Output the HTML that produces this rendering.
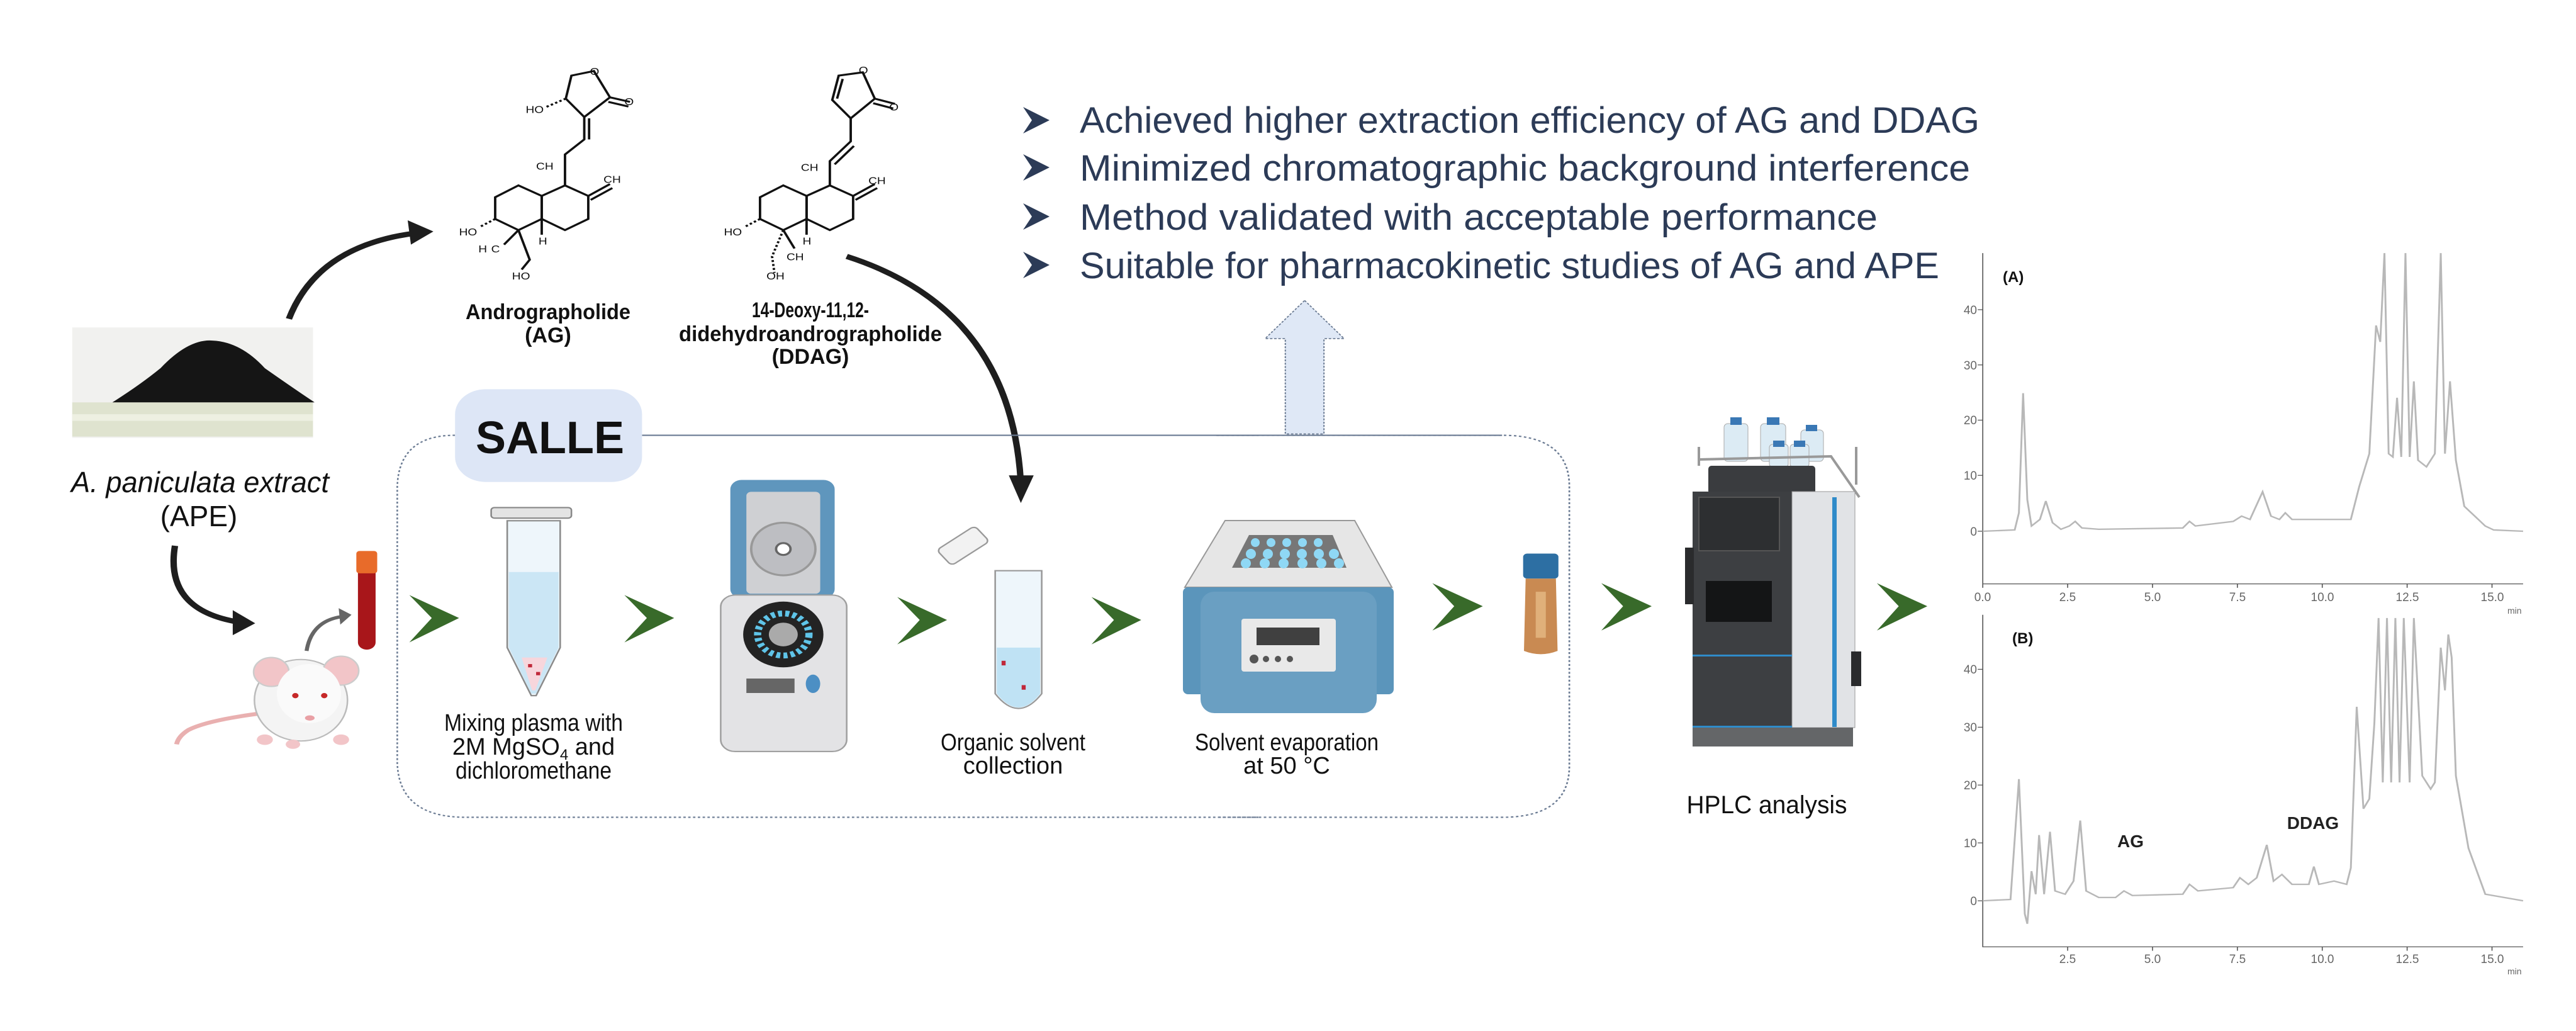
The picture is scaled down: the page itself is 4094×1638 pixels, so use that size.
<!DOCTYPE html>
<html><head><meta charset="utf-8"><style>
html,body{margin:0;padding:0;background:#fff;}
svg{display:block;}
text{font-family:"Liberation Sans",Arial,sans-serif;}
</style></head><body>
<svg width="4094" height="1638" viewBox="0 0 4094 1638" xmlns="http://www.w3.org/2000/svg">
<rect width="4094" height="1638" fill="#fff"/>

<!-- ========== Group in zoom1 coordinates ========== -->
<g transform="scale(1.2755 1.0446)">
  <!-- powder dish -->
  <rect x="90" y="498" width="300" height="168" fill="#f1f1ef"/>
  <rect x="90" y="612" width="300" height="52" fill="#dfe3cf"/>
  <rect x="90" y="630" width="300" height="10" fill="#eef0e2"/>
  <path d="M140 612 Q175 585 200 560 Q235 515 265 518 Q300 520 330 560 Q365 590 392 612 Z" fill="#151515"/>

  <!-- arrows black -->
  <path d="M360 485 Q395 375 515 355" fill="none" stroke="#1e1e1e" stroke-width="8"/>
  <polygon points="540,352 508,335 512,372" fill="#1e1e1e"/>
  <path d="M218 830 Q205 925 292 945" fill="none" stroke="#1e1e1e" stroke-width="8"/>
  <polygon points="318,948 290,928 290,966" fill="#1e1e1e"/>
  <path d="M1055 390 Q1260 470 1272 735" fill="none" stroke="#1e1e1e" stroke-width="8"/>
  <polygon points="1272,765 1257,723 1288,723" fill="#1e1e1e"/>
  <!-- mouse small arrow -->
  <path d="M382 990 Q388 945 425 938" fill="none" stroke="#666" stroke-width="5"/>
  <polygon points="438,935 422,925 424,950" fill="#666"/>

  <!-- mouse -->
  <path d="M325 1085 Q260 1095 235 1110 Q222 1120 220 1132" fill="none" stroke="#e9b0b0" stroke-width="6"/>
  <ellipse cx="375" cy="1065" rx="58" ry="62" fill="#f4f4f4" stroke="#bbb" stroke-width="2"/>
  <circle cx="338" cy="1022" r="22" fill="#f2c5c8" stroke="#ccc" stroke-width="2"/>
  <circle cx="425" cy="1020" r="22" fill="#f2c5c8" stroke="#ccc" stroke-width="2"/>
  <ellipse cx="385" cy="1055" rx="40" ry="45" fill="#fafafa"/>
  <circle cx="368" cy="1058" r="4" fill="#c62828"/>
  <circle cx="404" cy="1058" r="4" fill="#c62828"/>
  <ellipse cx="386" cy="1092" rx="6" ry="4" fill="#e9a0a5"/>
  <ellipse cx="330" cy="1125" rx="10" ry="8" fill="#f2c5c8"/>
  <ellipse cx="425" cy="1125" rx="10" ry="8" fill="#f2c5c8"/>
  <ellipse cx="365" cy="1132" rx="9" ry="7" fill="#f2c5c8"/>

  <!-- blood tube -->
  <rect x="446" y="858" width="22" height="130" rx="11" fill="#a8161a"/>
  <rect x="444" y="838" width="26" height="34" rx="4" fill="#e86b2a"/>

  <!-- SALLE box -->
  <path d="M800 662 L1568 662" stroke="#6b7b93" stroke-width="2"/>
  <path d="M567 662 Q497 662 495 740 L495 1160 Q497 1243 580 1243 L1568 1243" fill="none" stroke="#6b7b93" stroke-width="2" stroke-dasharray="3 3"/>
  <rect x="567" y="592" width="233" height="141" rx="38" fill="#dde6f6"/>

  <!-- chevrons -->
  <g fill="#386a2a">
    <polygon points="510,905 572,940 510,977 538,940"/>
    <polygon points="778,905 840,940 778,977 806,940"/>
    <polygon points="1118,908 1180,943 1118,980 1146,943"/>
    <polygon points="1360,908 1422,943 1360,980 1388,943"/>
  </g>

  <!-- eppendorf -->
  <rect x="612" y="772" width="100" height="16" rx="4" fill="#e4e4e4" stroke="#888" stroke-width="2"/>
  <path d="M632 792 L698 792 L698 985 L668 1058 L662 1058 L632 985 Z" fill="#eef6fb" stroke="#8a8a8a" stroke-width="2"/>
  <path d="M634 870 L696 870 L696 985 L668 1055 L662 1055 L634 985 Z" fill="#cbe6f5"/>
  <path d="M650 1000 L682 1000 L667 1050 L663 1050 Z" fill="#f7d6dc"/>
  <rect x="658" y="1010" width="5" height="5" fill="#c0283a"/><rect x="668" y="1022" width="5" height="5" fill="#c0283a"/>

  <!-- centrifuge -->
  <rect x="910" y="730" width="130" height="180" rx="14" fill="#5f96bd"/>
  <rect x="930" y="748" width="92" height="155" rx="6" fill="#cfd0d3"/>
  <circle cx="976" cy="835" r="40" fill="#bdbec2" stroke="#999" stroke-width="3"/>
  <circle cx="976" cy="835" r="9" fill="#fff" stroke="#666" stroke-width="3"/>
  <rect x="898" y="905" width="157" height="238" rx="18" fill="#e3e3e5" stroke="#a0a0a0" stroke-width="2"/>
  <circle cx="976" cy="965" r="50" fill="#232323"/>
  <circle cx="976" cy="965" r="32" fill="none" stroke="#5fc4e8" stroke-width="9" stroke-dasharray="5 4"/>
  <circle cx="976" cy="965" r="18" fill="#aaa"/>
  <rect x="930" y="1032" width="60" height="22" fill="#666"/>
  <ellipse cx="1013" cy="1040" rx="9" ry="14" fill="#4c8fc4"/>

  <!-- organic tube -->
  <g transform="rotate(-38 1200 830)"><rect x="1170" y="815" width="60" height="30" rx="6" fill="#f2f2f2" stroke="#999" stroke-width="2"/></g>
  <path d="M1240 868 L1298 868 L1298 1055 Q1269 1100 1240 1055 Z" fill="#eef6fb" stroke="#999" stroke-width="2"/>
  <path d="M1242 985 L1296 985 L1296 1055 Q1269 1097 1242 1055 Z" fill="#bfe2f4"/>
  <rect x="1248" y="1005" width="5" height="7" fill="#c0283a"/><rect x="1273" y="1042" width="5" height="7" fill="#c0283a"/>

  <!-- molecules AG -->
  <g fill="none" stroke="#111" stroke-width="3">
    <polygon points="617,300 646,282 675,298 675,333 646,350 617,333"/>
    <polygon points="675,298 704,282 733,298 733,333 704,350 675,333"/>
    <path d="M733 298 L760 280 M736 304 L763 286"/>
    <path d="M704 282 L704 235 L728 212 L728 178 M734 212 L734 180"/>
    <polygon points="728,178 705,150 712,115 740,108 760,148"/>
    <path d="M760 148 L785 155 M758 155 L783 162"/>
    <path d="M705 150 L680 163" stroke-dasharray="3 3"/>
    <path d="M646 350 L660 395 L650 410"/>
    <path d="M617 333 L598 345" stroke-dasharray="3 3"/>
    <path d="M646 350 L628 372"/>
    <path d="M675 333 L675 357"/>
  </g>
  <!-- molecules DDAG -->
  <g fill="none" stroke="#111" stroke-width="3">
    <polygon points="947,300 976,282 1005,298 1005,333 976,350 947,333"/>
    <polygon points="1005,298 1034,282 1063,298 1063,333 1034,350 1005,333"/>
    <path d="M1063 298 L1090 280 M1066 304 L1093 286"/>
    <path d="M1034 282 L1034 245 L1060 215 L1060 180 M1040 250 L1064 222"/>
    <polygon points="1060,180 1037,152 1045,115 1075,110 1090,150"/>
    <path d="M1043 150 L1050 120"/>
    <path d="M1090 150 L1115 158 M1088 157 L1113 165"/>
    <path d="M976 350 L962 390 L965 415" stroke-dasharray="3 3"/>
    <path d="M947 333 L928 345" stroke-dasharray="3 3"/>
    <path d="M976 350 L990 378"/>
    <path d="M1005 333 L1005 357"/>
  </g>
  <g font-size="15" fill="#111" font-family="Liberation Sans, sans-serif">
    <text x="655" y="172">HO</text><text x="735" y="114">O</text><text x="778" y="160">O</text>
    <text x="668" y="258">CH</text><text x="752" y="278">CH</text>
    <text x="572" y="358">HO</text><text x="596" y="384">H</text><text x="612" y="384">C</text>
    <text x="671" y="372">H</text><text x="638" y="425">HO</text>
    <text x="1070" y="112">O</text><text x="1108" y="168">O</text>
    <text x="998" y="260">CH</text><text x="1082" y="280">CH</text>
    <text x="902" y="358">HO</text><text x="1000" y="372">H</text>
    <text x="980" y="396">CH</text><text x="955" y="425">OH</text>
  </g>
</g>

<!-- ========== Group in zoom2 coordinates ========== -->
<g transform="translate(2000 0) scale(1.3355 1.0446)">
  <!-- up arrow -->
  <polygon points="55,457 102,515 78,515 78,660 32,660 32,515 8,515" fill="#dfe8f6" stroke="#6b7b93" stroke-width="1.5" stroke-dasharray="3 2"/>
  <!-- SALLE box right part -->
  <path d="M-50 662 L290 662 Q370 662 370 740 L370 1165 Q370 1243 290 1243 L-50 1243" fill="none" stroke="#6b7b93" stroke-width="2" stroke-dasharray="3 3"/>
  <path d="M-50 662 L290 662" stroke="#6b7b93" stroke-width="2"/>
  <!-- chevrons -->
  <g fill="#386a2a">
    <polygon points="207,887 267,922 207,959 233,922"/>
    <polygon points="408,887 468,922 408,959 434,922"/>
    <polygon points="736,887 796,922 736,959 762,922"/>
  </g>

  <!-- Chromatogram A -->
  <g stroke="#555" stroke-width="1.2" fill="none">
    <path d="M862 385 L862 888 L1505 888"/>
    <path d="M856 471 L862 471 M856 555 L862 555 M856 639 L862 639 M856 723 L862 723 M856 808 L862 808"/>
    <path d="M862 888 L862 894 M963 888 L963 894 M1064 888 L1064 894 M1165 888 L1165 894 M1266 888 L1266 894 M1367 888 L1367 894 M1468 888 L1468 894"/>
  </g>
  <polyline fill="none" stroke="#b8b8b8" stroke-width="2.2" points="862,808 900,806 905,780 910,598 915,760 920,800 930,790 937,762 945,795 955,805 965,800 972,793 980,803 1000,805 1100,803 1108,793 1115,800 1160,793 1170,785 1180,790 1195,748 1205,785 1215,790 1222,780 1230,790 1300,790 1310,740 1322,690 1330,495 1335,520 1340,385 1345,690 1350,695 1355,605 1360,695 1365,385 1370,695 1375,580 1380,700 1390,710 1400,690 1407,385 1412,690 1418,580 1425,700 1435,770 1460,800 1470,806 1505,808"/>
  <!-- Chromatogram B -->
  <g stroke="#555" stroke-width="1.2" fill="none">
    <path d="M862 935 L862 1440 L1505 1440"/>
    <path d="M856 1018 L862 1018 M856 1106 L862 1106 M856 1194 L862 1194 M856 1282 L862 1282 M856 1370 L862 1370"/>
    <path d="M963 1440 L963 1446 M1064 1440 L1064 1446 M1165 1440 L1165 1446 M1266 1440 L1266 1446 M1367 1440 L1367 1446 M1468 1440 L1468 1446"/>
  </g>
  <polyline fill="none" stroke="#b8b8b8" stroke-width="2.2" points="862,1370 895,1368 905,1185 912,1390 915,1405 920,1325 925,1360 929,1270 935,1360 942,1265 948,1355 960,1360 970,1340 978,1248 985,1355 1000,1365 1020,1365 1030,1355 1040,1362 1100,1360 1108,1345 1118,1355 1160,1350 1168,1335 1178,1345 1188,1335 1200,1285 1208,1340 1218,1330 1230,1345 1250,1345 1256,1318 1262,1345 1280,1340 1295,1345 1300,1320 1307,1075 1315,1230 1322,1215 1328,1100 1333,940 1338,1190 1343,940 1348,1190 1353,940 1358,1190 1363,940 1370,1190 1375,940 1385,1180 1395,1200 1400,1190 1407,985 1412,1050 1416,965 1420,1000 1425,1180 1440,1290 1460,1360 1505,1370"/>

  <!-- vial -->
  <rect x="315" y="842" width="42" height="38" rx="5" fill="#2d6fa3"/>
  <path d="M318 880 L354 880 L356 990 Q336 1000 316 990 Z" fill="#c98a52"/>
  <rect x="330" y="900" width="12" height="70" fill="#e0b07a"/>
</g>

<!-- evaporator (root coords) -->
<polygon points="1947,827 2153,827 2212,933 1883,933" fill="#e6e6e6" stroke="#999" stroke-width="2"/>
<polygon points="1985,850 2118,850 2140,902 1958,902" fill="#777"/>
<g fill="#8fd8f5">
  <circle cx="1995" cy="862" r="7"/><circle cx="2020" cy="862" r="7"/><circle cx="2045" cy="862" r="7"/><circle cx="2070" cy="862" r="7"/><circle cx="2095" cy="862" r="7"/>
  <circle cx="1988" cy="880" r="8"/><circle cx="2015" cy="880" r="8"/><circle cx="2042" cy="880" r="8"/><circle cx="2069" cy="880" r="8"/><circle cx="2096" cy="880" r="8"/><circle cx="2120" cy="880" r="8"/>
  <circle cx="1980" cy="895" r="8"/><circle cx="2010" cy="895" r="8"/><circle cx="2040" cy="895" r="8"/><circle cx="2070" cy="895" r="8"/><circle cx="2100" cy="895" r="8"/><circle cx="2128" cy="895" r="8"/>
</g>
<rect x="1880" y="933" width="335" height="170" rx="8" fill="#5b95bb"/>
<rect x="1908" y="940" width="280" height="193" rx="22" fill="#6a9fc2"/>
<rect x="1973" y="983" width="150" height="84" rx="4" fill="#e9e9e9"/>
<rect x="1997" y="997" width="100" height="28" fill="#404040"/>
<circle cx="1993" cy="1047" r="7" fill="#555"/><circle cx="2012" cy="1047" r="5" fill="#555"/><circle cx="2031" cy="1047" r="5" fill="#555"/><circle cx="2050" cy="1047" r="5" fill="#555"/>

<!-- HPLC instrument -->
<g>
  <path d="M2700 710 L2700 740 M2950 710 L2950 770" stroke="#999" stroke-width="4"/>
  <rect x="2740" y="673" width="38" height="60" rx="6" fill="#dcebf4" stroke="#aaa"/><rect x="2750" y="663" width="18" height="12" fill="#3a78b5"/>
  <rect x="2798" y="673" width="40" height="60" rx="6" fill="#dcebf4" stroke="#aaa"/><rect x="2808" y="663" width="20" height="12" fill="#3a78b5"/>
  <rect x="2862" y="683" width="36" height="50" rx="6" fill="#dcebf4" stroke="#aaa"/><rect x="2870" y="675" width="18" height="10" fill="#3a78b5"/>
  <rect x="2812" y="706" width="30" height="36" rx="5" fill="#dcebf4" stroke="#aaa"/><rect x="2818" y="700" width="18" height="10" fill="#3a78b5"/>
  <rect x="2845" y="706" width="30" height="36" rx="5" fill="#dcebf4" stroke="#aaa"/><rect x="2851" y="700" width="18" height="10" fill="#3a78b5"/>
  <path d="M2700 730 L2910 725 L2955 790" fill="none" stroke="#999" stroke-width="4"/>
  <rect x="2715" y="740" width="170" height="45" rx="5" fill="#3a3c3f"/>
  <rect x="2690" y="781" width="158" height="375" fill="#3d3f42"/>
  <rect x="2700" y="790" width="128" height="85" fill="#2d2f31" stroke="#555" stroke-width="2"/>
  <rect x="2711" y="923" width="105" height="65" fill="#141516"/>
  <rect x="2848" y="781" width="100" height="375" fill="#e1e3e6" stroke="#999" stroke-width="1"/>
  <rect x="2912" y="790" width="7" height="365" fill="#2f8bc9"/>
  <rect x="2690" y="1040" width="158" height="3" fill="#2f8bc9"/>
  <rect x="2690" y="1153" width="158" height="3" fill="#2f8bc9"/>
  <rect x="2690" y="1156" width="255" height="30" fill="#646668"/>
  <rect x="2678" y="870" width="14" height="90" fill="#2a2b2d"/>
  <rect x="2942" y="1035" width="16" height="55" fill="#2a2b2d"/>
</g>

<!-- ========== TEXT (root coords) ========== -->
<g fill="#2c3b57" font-size="58">
  <text x="1716" y="211" textLength="1430" lengthAdjust="spacingAndGlyphs">Achieved higher extraction efficiency of AG and DDAG</text>
  <text x="1716" y="287" textLength="1415" lengthAdjust="spacingAndGlyphs">Minimized chromatographic background interference</text>
  <text x="1716" y="365" textLength="1268" lengthAdjust="spacingAndGlyphs">Method validated with acceptable performance</text>
  <text x="1716" y="442" textLength="1366" lengthAdjust="spacingAndGlyphs">Suitable for pharmacokinetic studies of AG and APE</text>
</g>
<g fill="#2c3b57">
  <polygon points="1626,170 1668,191 1626,212 1640,191"/>
  <polygon points="1626,245 1668,266 1626,287 1640,266"/>
  <polygon points="1626,323 1668,344 1626,365 1640,344"/>
  <polygon points="1626,400 1668,421 1626,442 1640,421"/>
</g>

<text x="874" y="720" font-size="72" font-weight="bold" text-anchor="middle" fill="#111">SALLE</text>

<g fill="#111" text-anchor="middle">
  <text x="318" y="782" font-size="46" font-style="italic" textLength="410" lengthAdjust="spacingAndGlyphs">A. paniculata extract</text>
  <text x="316" y="836" font-size="46">(APE)</text>
  <text x="871" y="507" font-size="34" font-weight="bold" textLength="262" lengthAdjust="spacingAndGlyphs">Andrographolide</text>
  <text x="871" y="544" font-size="34" font-weight="bold">(AG)</text>
  <text x="1288" y="504" font-size="34" font-weight="bold" textLength="186" lengthAdjust="spacingAndGlyphs">14-Deoxy-11,12-</text>
  <text x="1288" y="542" font-size="34" font-weight="bold" textLength="418" lengthAdjust="spacingAndGlyphs">didehydroandrographolide</text>
  <text x="1288" y="578" font-size="34" font-weight="bold">(DDAG)</text>

  <text x="848" y="1161" font-size="38" textLength="284" lengthAdjust="spacingAndGlyphs">Mixing plasma with</text>
  <text x="848" y="1199" font-size="38">2M MgSO<tspan font-size="24" dy="8">4</tspan><tspan dy="-8"> and</tspan></text>
  <text x="848" y="1237" font-size="38" textLength="248" lengthAdjust="spacingAndGlyphs">dichloromethane</text>
  <text x="1610" y="1192" font-size="38" textLength="230" lengthAdjust="spacingAndGlyphs">Organic solvent</text>
  <text x="1610" y="1229" font-size="38">collection</text>
  <text x="2045" y="1192" font-size="38" textLength="292" lengthAdjust="spacingAndGlyphs">Solvent evaporation</text>
  <text x="2045" y="1229" font-size="38">at 50 °C</text>
  <text x="2808" y="1292" font-size="40" textLength="255" lengthAdjust="spacingAndGlyphs">HPLC analysis</text>
</g>

<!-- chromatogram text -->
<g fill="#333" font-size="20">
  <text x="3183" y="448" font-weight="bold" font-size="24" fill="#111">(A)</text>
  <text x="3198" y="1022" font-weight="bold" font-size="24" fill="#111">(B)</text>
  <g text-anchor="end" fill="#666" font-size="19">
    <text x="3142" y="499">40</text><text x="3142" y="587">30</text><text x="3142" y="674">20</text><text x="3142" y="762">10</text><text x="3142" y="851">0</text>
    <text x="3142" y="1070">40</text><text x="3142" y="1162">30</text><text x="3142" y="1254">20</text><text x="3142" y="1346">10</text><text x="3142" y="1438">0</text>
  </g>
  <g text-anchor="middle" fill="#666" font-size="19">
    <text x="3151" y="955">0.0</text><text x="3286" y="955">2.5</text><text x="3421" y="955">5.0</text><text x="3556" y="955">7.5</text><text x="3691" y="955">10.0</text><text x="3826" y="955">12.5</text><text x="3961" y="955">15.0</text>
    <text x="3286" y="1530">2.5</text><text x="3421" y="1530">5.0</text><text x="3556" y="1530">7.5</text><text x="3691" y="1530">10.0</text><text x="3826" y="1530">12.5</text><text x="3961" y="1530">15.0</text>
  </g>
  <text x="3985" y="975" font-size="14" fill="#666">min</text>
  <text x="3985" y="1548" font-size="14" fill="#666">min</text>
  <text x="3386" y="1346" font-size="28" font-weight="bold" text-anchor="middle" fill="#222">AG</text>
  <text x="3676" y="1317" font-size="28" font-weight="bold" text-anchor="middle" fill="#222">DDAG</text>
</g>
</svg>
</body></html>
